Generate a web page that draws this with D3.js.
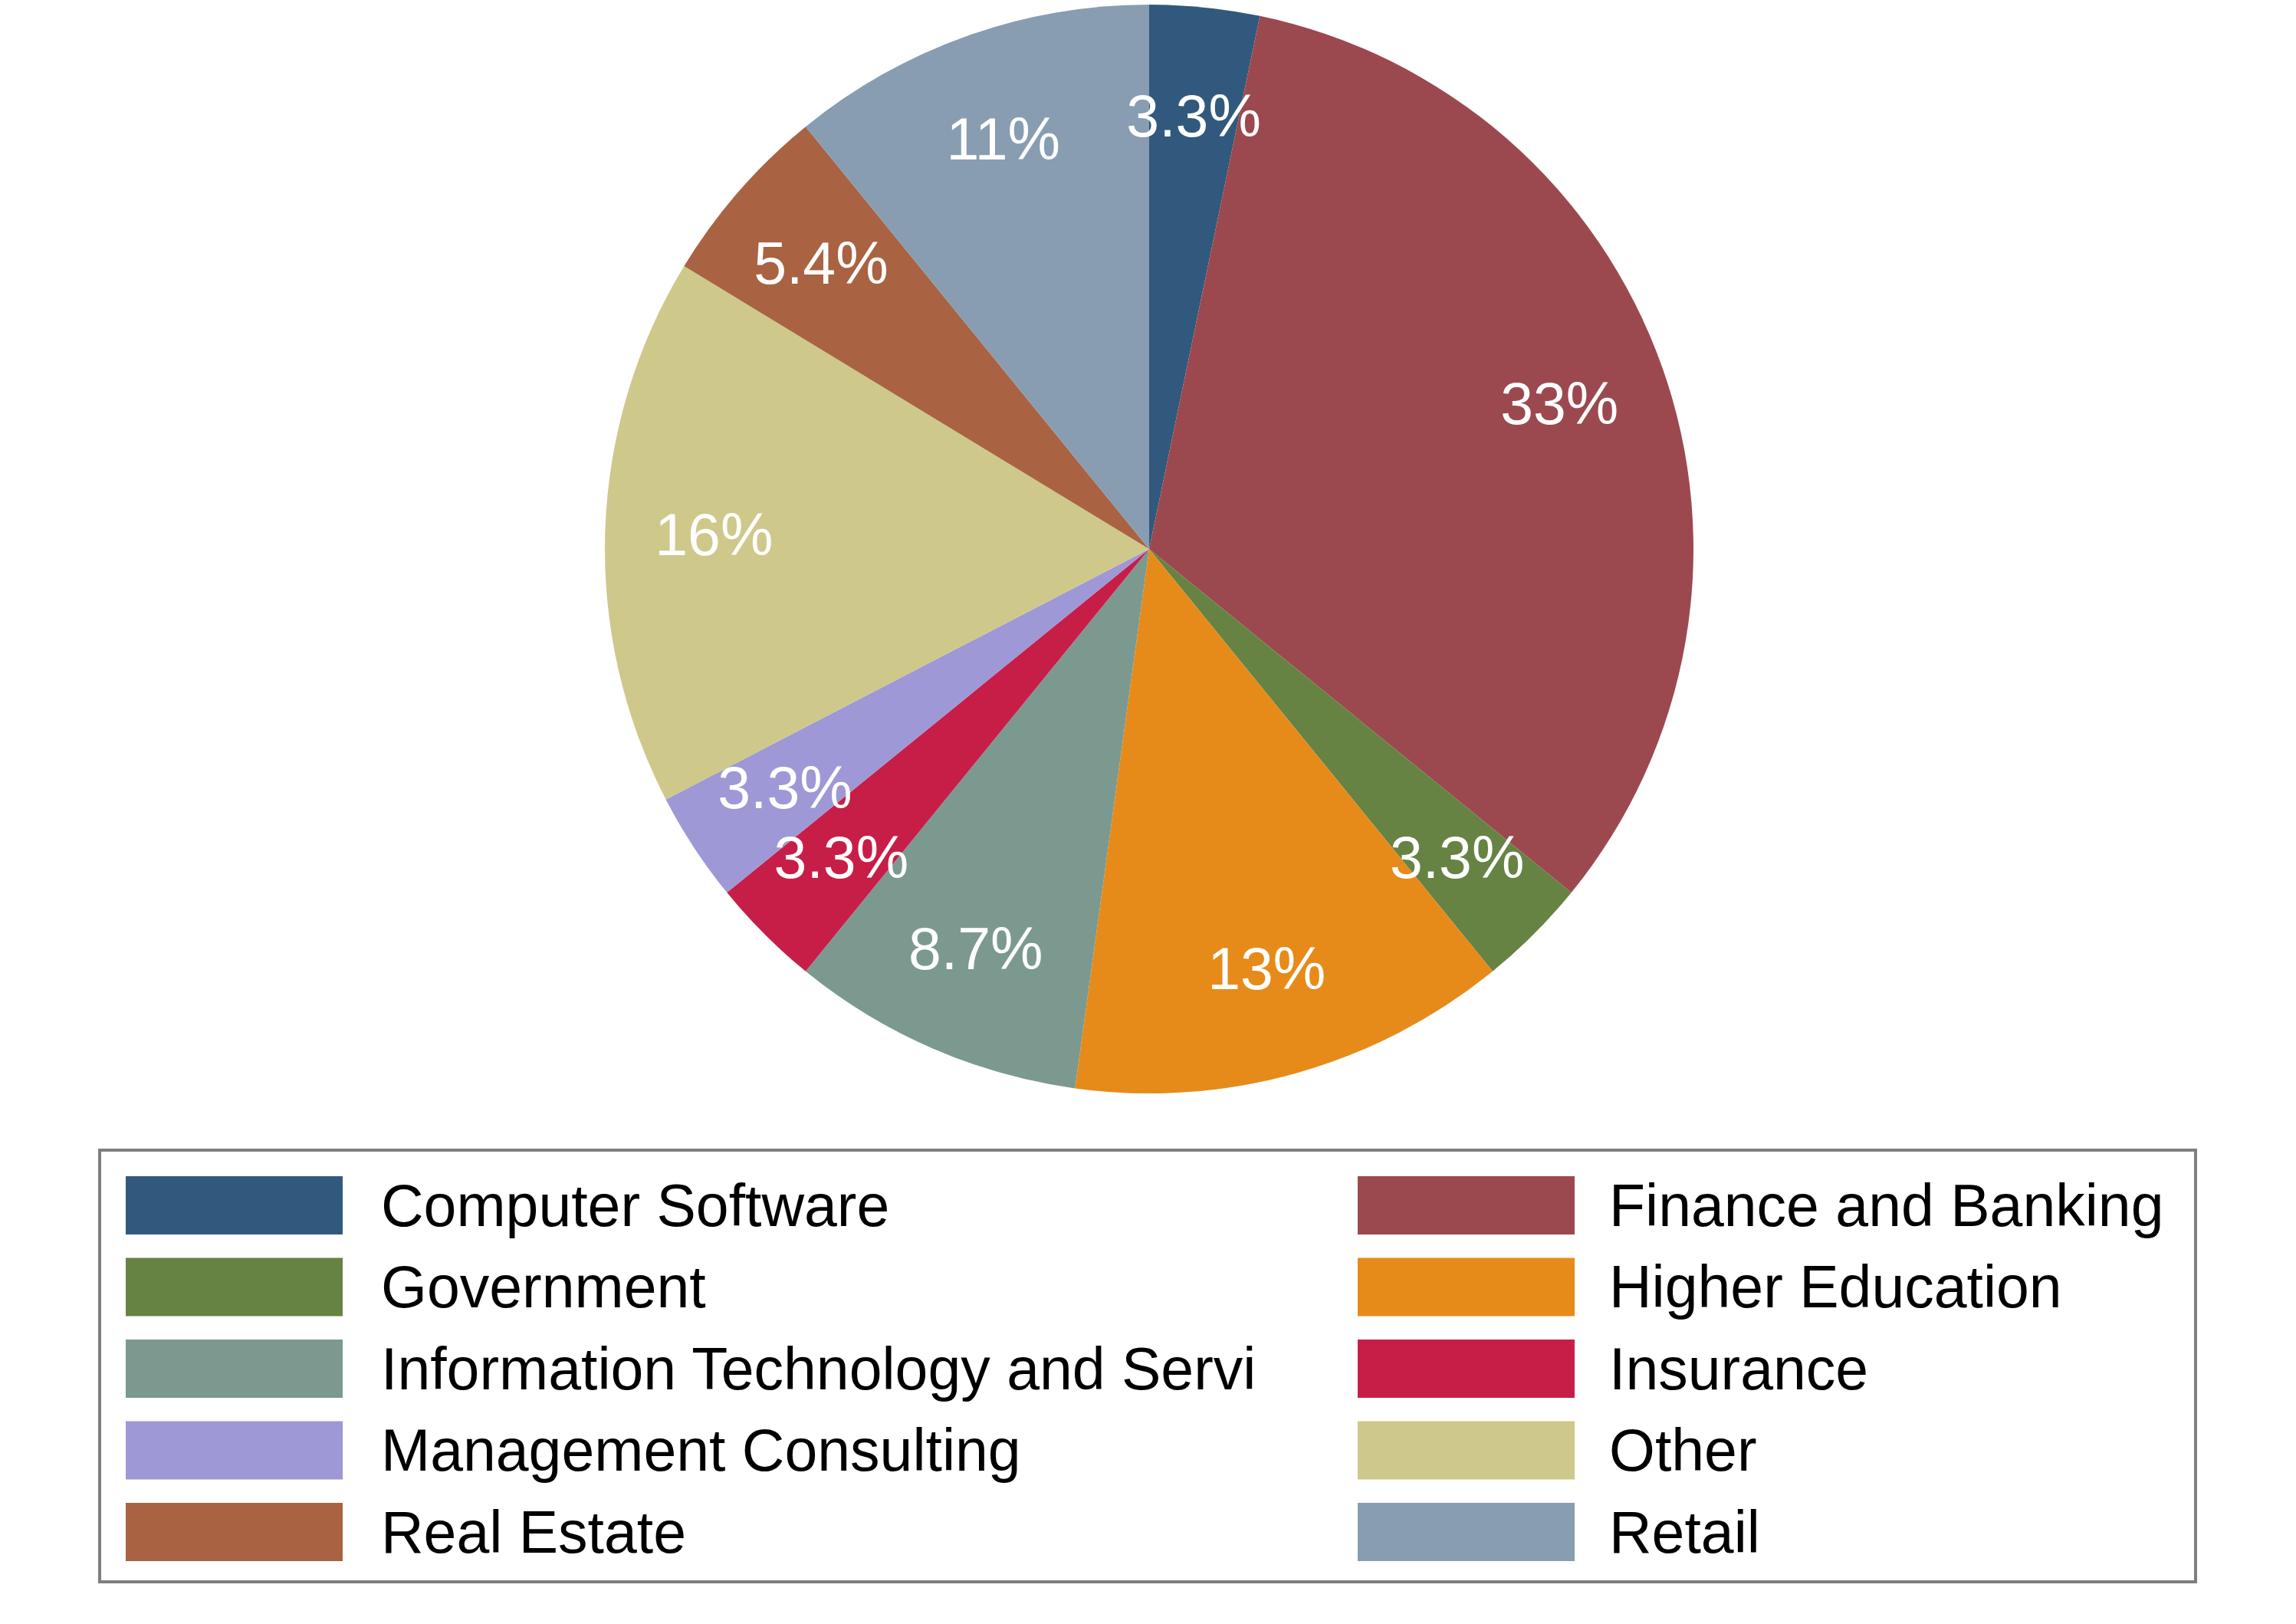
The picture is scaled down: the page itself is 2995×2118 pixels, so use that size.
<!DOCTYPE html>
<html>
<head>
<meta charset="utf-8">
<script src="https://cdn.jsdelivr.net/npm/d3@7"></script>
<style>
  html, body { margin: 0; padding: 0; background: #ffffff; }
  svg { display: block; }
</style>
</head>
<body>
<div id="viz"></div>
<script>
// chart data (counts per industry, n = 92)
var industries = [
  'Computer Software',
  'Finance and Banking',
  'Government',
  'Higher Education',
  'Information Technology and Servi',
  'Insurance',
  'Management Consulting',
  'Other',
  'Real Estate',
  'Retail'
];
var counts = [3, 30, 3, 12, 8, 3, 3, 15, 5, 10];
var slice_colors = ['#31597d', '#9b494f', '#668344', '#e68b1a', '#7c9990',
                    '#c71e48', '#9e98d6', '#cfc88b', '#a96342', '#889db1'];

var width = 2995,
    height = 2118;

var svg = d3.select('#viz').append('svg')
    .attr('width', width)
    .attr('height', height);

var font = 'Liberation Sans, Arial, Helvetica, sans-serif';

// pie
var cx = 1499, cy = 716, radius = 710;

var data = industries.map(function(name, i) {
  return {name: name, value: counts[i], color: slice_colors[i]};
});
var total = d3.sum(counts);

var pie = d3.pie()
    .sort(null)
    .value(function(d) { return d.value; });

var arc = d3.arc()
    .innerRadius(0)
    .outerRadius(radius);

var label_arc = d3.arc()
    .innerRadius(radius * 0.8)
    .outerRadius(radius * 0.8);

var fmt = d3.format('.2r');

var pie_g = svg.append('g')
    .attr('transform', 'translate(' + cx + ',' + cy + ')');

var arcs = pie(data);

pie_g.selectAll('path')
    .data(arcs)
    .enter().append('path')
    .attr('d', arc)
    .attr('fill', function(d) { return d.data.color; });

pie_g.selectAll('text')
    .data(arcs)
    .enter().append('text')
    .attr('transform', function(d) { return 'translate(' + label_arc.centroid(d) + ')'; })
    .attr('text-anchor', 'middle')
    .attr('dy', '0.35em')
    .attr('fill', 'white')
    .style('font-family', font)
    .style('font-size', '77px')
    .text(function(d) { return fmt(d.data.value / total * 100) + '%'; });

// legend
var legend = {left: 130, top: 1500, right: 2864, bottom: 2063};
var row_top = 1534, row_pitch = 106.5, key_w = 283, key_h = 76;
var col_x = [164, 1771];
var text_gap = [50, 45];

var legend_g = svg.append('g');

legend_g.append('rect')
    .attr('x', legend.left)
    .attr('y', legend.top)
    .attr('width', legend.right - legend.left)
    .attr('height', legend.bottom - legend.top)
    .attr('fill', 'white')
    .attr('stroke', '#7f7f7f')
    .attr('stroke-width', 4);

var items = legend_g.selectAll('g.item')
    .data(data)
    .enter().append('g')
    .attr('class', 'item')
    .attr('transform', function(d, i) {
      return 'translate(' + col_x[i % 2] + ',' + (row_top + row_pitch * Math.floor(i / 2)) + ')';
    });

items.append('rect')
    .attr('x', 0)
    .attr('y', 0)
    .attr('width', key_w)
    .attr('height', key_h)
    .attr('fill', function(d) { return d.color; });

items.append('text')
    .attr('x', function(d, i) { return key_w + text_gap[i % 2]; })
    .attr('y', key_h / 2)
    .attr('dy', '0.35em')
    .attr('fill', '#000')
    .style('font-family', font)
    .style('font-size', '77px')
    .text(function(d) { return d.name; });
</script>
</body>
</html>
